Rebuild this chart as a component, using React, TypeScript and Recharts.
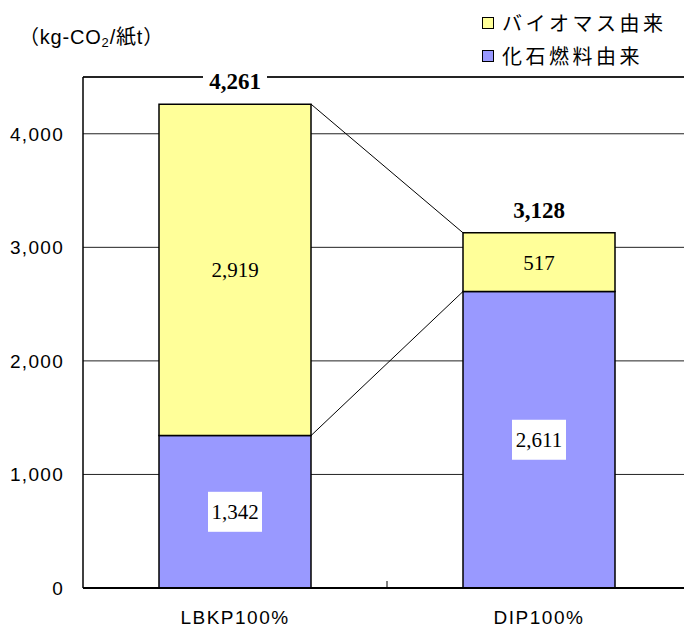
import {
  Bar,
  BarChart,
  CartesianGrid,
  LabelList,
  Legend,
  ReferenceLine,
  XAxis,
  YAxis,
} from "recharts";

const CATEGORIES = ["LBKP100%", "DIP100%"];
const FOSSIL = [1342, 2611];
const BIOMASS = [2919, 517];
const TOTALS = [4261, 3128];
const Y_TICKS = [0, 1000, 2000, 3000, 4000];
const Y_MAX = 4500;

const SERIES_NAMES = { biomass: "バイオマス由来", fossil: "化石燃料由来" };
const LEGEND_ORDER = [SERIES_NAMES.biomass, SERIES_NAMES.fossil];

const data = CATEGORIES.map((name, i) => ({
  name,
  fossil: FOSSIL[i],
  biomass: BIOMASS[i],
  total: TOTALS[i],
}));

const CHART_W = 691;
const CHART_H = 628;
const Y_W = 83;
const BAR = 152;
const STEP = (CHART_W - Y_W) / CATEGORIES.length;

const YELLOW = "#FFFF99";
const BLUE = "#9999FF";
const SANS = '"Liberation Sans", Arial, sans-serif';
const SERIF = '"Liberation Serif", "Times New Roman", serif';
const CJK = '"Noto Sans CJK JP", sans-serif';

const fmt = (v: number) => Number(v).toLocaleString("en-US");

function box(props: any) {
  const vb = props.viewBox || props;
  return { x: vb.x ?? props.x, y: vb.y ?? props.y, w: vb.width ?? props.width, h: vb.height ?? props.height };
}

function FossilLabel(props: any) {
  const { x, y, w, h } = box(props);
  const cx = x + w / 2;
  const cy = y + h / 2;
  return (
    <g>
      <rect x={cx - 27} y={cy - 20} width={54} height={40} fill="#fff" />
      <text x={cx} y={cy} dy="0.36em" textAnchor="middle" fontFamily={SERIF} fontSize={21} fill="#000">
        {fmt(props.value)}
      </text>
    </g>
  );
}

function BiomassLabel(props: any) {
  const { x, y, w, h } = box(props);
  return (
    <text x={x + w / 2} y={y + h / 2} dy="0.36em" textAnchor="middle" fontFamily={SERIF} fontSize={21} fill="#000">
      {fmt(props.value)}
    </text>
  );
}

function TotalLabel(props: any) {
  const { x, y, w } = box(props);
  const cx = x + w / 2;
  const cy = y - 23;
  return (
    <g>
      <rect x={cx - 32} y={cy - 13} width={64} height={26} fill="#fff" />
      <text x={cx} y={cy} dy="0.36em" textAnchor="middle" fontFamily={SERIF} fontWeight="bold" fontSize={23} fill="#000">
        {fmt(props.value)}
      </text>
    </g>
  );
}

function Connector(props: any) {
  return (
    <line
      x1={props.x1 + BAR / 2}
      y1={props.y1}
      x2={props.x2 - BAR / 2}
      y2={props.y2}
      stroke="#000"
      strokeWidth={1}
    />
  );
}

function CategoryTick(props: any) {
  const { x, y, payload, index } = props;
  return (
    <g>
      <text x={x} y={y + 36} textAnchor="middle" fontFamily={SANS} fontSize={19} letterSpacing={1.5} fill="#000">
        {payload.value}
      </text>
      {index < CATEGORIES.length - 1 && (
        <line x1={x + STEP / 2} y1={y} x2={x + STEP / 2} y2={y - 7} stroke="#000" strokeWidth={1} />
      )}
    </g>
  );
}

function LegendBox(props: any) {
  const items = [...(props.payload || [])].sort(
    (a: any, b: any) => LEGEND_ORDER.indexOf(a.value) - LEGEND_ORDER.indexOf(b.value)
  );
  return (
    <div style={{ fontFamily: CJK, fontSize: 20, letterSpacing: 3.5, color: "#000" }}>
      {items.map((it: any) => (
        <div key={it.value} style={{ display: "flex", alignItems: "center", height: 33 }}>
          <span
            style={{
              display: "inline-block",
              width: 10,
              height: 10,
              border: "1px solid #000",
              background: it.color,
              marginRight: 8,
            }}
          />
          <span>{it.value}</span>
        </div>
      ))}
    </div>
  );
}

export default function App() {
  return (
    <div
      style={{
        position: "fixed",
        left: 0,
        top: 0,
        width: 684,
        height: 628,
        overflow: "hidden",
        background: "#fff",
      }}
    >
      <div
        style={{
          position: "absolute",
          left: 19,
          top: 23,
          fontFamily: `${SANS.split(",")[0]}, ${CJK}`,
          fontSize: 20,
          letterSpacing: 0.8,
          color: "#000",
          whiteSpace: "nowrap",
          lineHeight: "28px",
        }}
      >
        （kg-CO<sub style={{ fontSize: 13, verticalAlign: "-3px" }}>2</sub>/紙t）
      </div>
      <BarChart
        width={CHART_W}
        height={CHART_H}
        data={data}
        margin={{ top: 77, right: 0, left: 0, bottom: 0 }}
        barSize={BAR}
      >
        <CartesianGrid vertical={false} stroke="#222" strokeWidth={1} />
        <ReferenceLine y={Y_MAX} stroke="#000" strokeWidth={1.5} />
        <ReferenceLine
          segment={[
            { x: CATEGORIES[0], y: TOTALS[0] },
            { x: CATEGORIES[1], y: TOTALS[1] },
          ]}
          shape={Connector}
        />
        <ReferenceLine
          segment={[
            { x: CATEGORIES[0], y: FOSSIL[0] },
            { x: CATEGORIES[1], y: FOSSIL[1] },
          ]}
          shape={Connector}
        />
        <XAxis
          dataKey="name"
          height={CHART_H - 588}
          axisLine={{ stroke: "#000", strokeWidth: 2 }}
          tickLine={false}
          tickSize={0}
          tickMargin={0}
          tick={<CategoryTick />}
          interval={0}
        />
        <YAxis
          width={Y_W}
          domain={[0, Y_MAX]}
          ticks={Y_TICKS}
          axisLine={{ stroke: "#000", strokeWidth: 1.5 }}
          tickLine={false}
          tickSize={0}
          tickMargin={19}
          tickFormatter={fmt}
          tick={{ fontFamily: SANS, fontSize: 19, letterSpacing: 1.3, fill: "#000" }}
        />
        <Legend
          layout="vertical"
          align="center"
          verticalAlign="middle"
          wrapperStyle={{ top: 6, left: 482, width: 200 }}
          content={<LegendBox />}
        />
        <Bar
          dataKey="fossil"
          name={SERIES_NAMES.fossil}
          stackId="a"
          fill={BLUE}
          stroke="#000"
          strokeWidth={1.5}
          isAnimationActive={false}
        >
          <LabelList dataKey="fossil" content={<FossilLabel />} />
        </Bar>
        <Bar
          dataKey="biomass"
          name={SERIES_NAMES.biomass}
          stackId="a"
          fill={YELLOW}
          stroke="#000"
          strokeWidth={1.5}
          isAnimationActive={false}
        >
          <LabelList dataKey="biomass" content={<BiomassLabel />} />
          <LabelList dataKey="total" content={<TotalLabel />} />
        </Bar>
      </BarChart>
    </div>
  );
}
